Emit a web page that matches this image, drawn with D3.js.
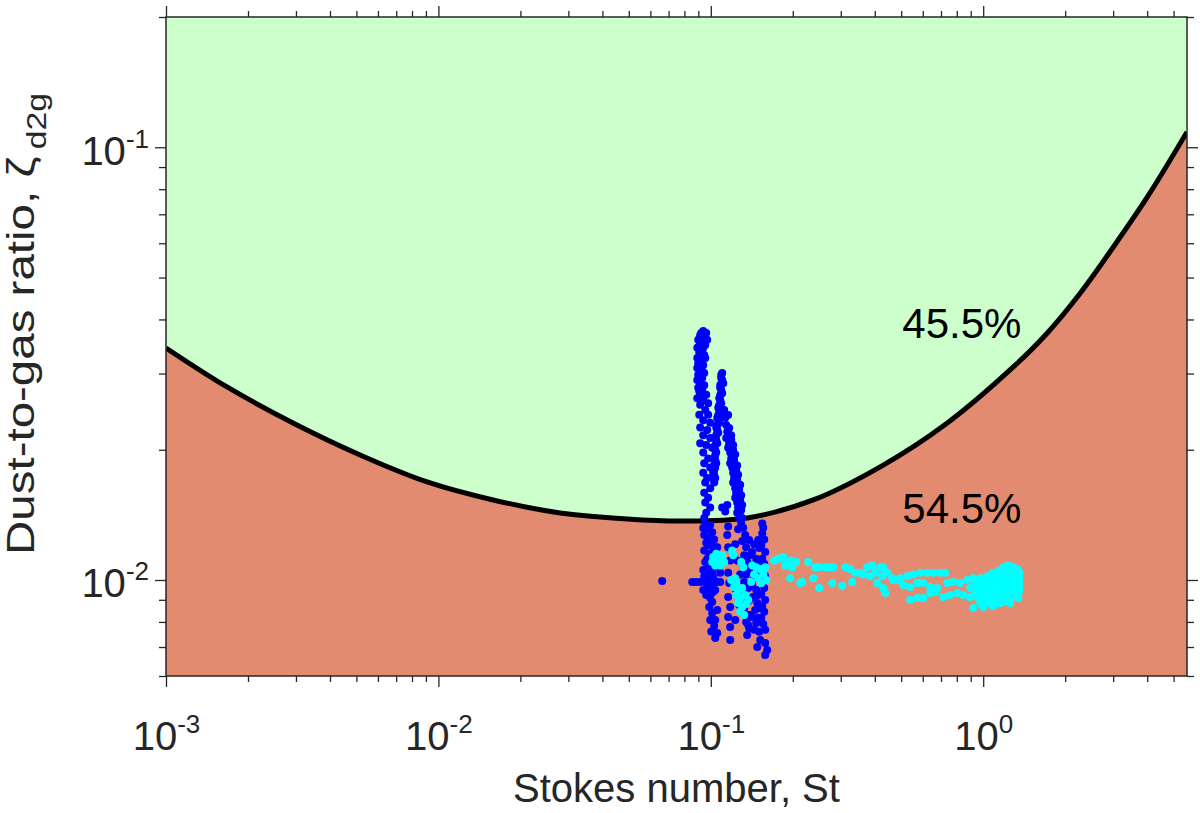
<!DOCTYPE html>
<html>
<head>
<meta charset="utf-8">
<script src="https://cdn.jsdelivr.net/npm/d3@7"></script>
<style>
  body { margin: 0; background: #fff; }
  text { font-family: Arial, "Liberation Sans", sans-serif; fill: #262626; }
</style>
</head>
<body>
<svg id="chart" width="1200" height="813"></svg>
<script>
// axis ranges and ticks
const xDomain = [0.001, 5.6];
const yDomain = [0.006, 0.2];
const xTickExps = [-3, -2, -1, 0];
const yTickExps = [-2, -1];
const areaLabels = ["45.5%", "54.5%"];

// critical dust-to-gas ratio curve
const curveSt = [0.001, 0.001675, 0.002926, 0.00516, 0.009089, 0.01588, 0.02799, 0.04932, 0.0772,
  0.136, 0.2377, 0.4188, 0.7383, 1.29, 1.72, 2.273, 3.005, 4.006, 5.6];
const curveZeta = [0.03437, 0.02793, 0.02306, 0.01945, 0.01685, 0.01531, 0.01429, 0.01384, 0.01369,
  0.01391, 0.01531, 0.01826, 0.02306, 0.03107, 0.03723, 0.04605, 0.05883, 0.07676, 0.1085];

// blue points [St, zeta]
const bluePoints = [
  [0.0938,0.0376],[0.0962,0.0372],[0.0914,0.0368],[0.0954,0.0364],[0.0899,0.0359],[0.0938,0.0359],
  [0.0970,0.0359],[0.0914,0.0351],[0.0954,0.0349],
  [0.0892,0.0344],[0.0930,0.0340],[0.0907,0.0335],[0.0946,0.0331],[0.0892,0.0326],[0.0922,0.0322],
  [0.0899,0.0317],[0.0938,0.0314],[0.0892,0.0309],[0.0914,0.0306],[0.0946,0.0301],[0.0899,0.0298],
  [0.0930,0.0293],[0.0892,0.0290],[0.0914,0.0285],[0.0946,0.0282],[0.0899,0.0278],[0.0930,0.0275],
  [0.0914,0.0270],[0.0892,0.0263],[0.0938,0.0261],
  [0.0922,0.0372],[0.0946,0.0355],[0.0907,0.0347],[0.0938,0.0344],[0.0914,0.0330],[0.0954,0.0326],
  [0.0930,0.0319],[0.0907,0.0312],[0.0930,0.0304],[0.0907,0.0295],[0.0922,0.0281],[0.0907,0.0273],
  [0.0938,0.0268],
  [0.0962,0.0268],[0.0978,0.0256],[0.0914,0.0254],[0.0954,0.0247],[0.0907,0.0241],[0.0978,0.0241],
  [0.0938,0.0234],[0.0995,0.0231],[0.0914,0.0225],[0.0970,0.0222],[0.0938,0.0216],[0.0995,0.0213],
  [0.0914,0.0207],[0.0962,0.0205],[0.1012,0.0202],
  [0.0938,0.0197],[0.0978,0.0191],[0.0946,0.0186],[0.0995,0.0182],[0.0938,0.0177],[0.0970,0.0172],
  [0.0954,0.0168],[0.0995,0.0163],[0.0946,0.0159],[0.0978,0.0155],[0.0954,0.0151],[0.0995,0.0147],
  [0.0962,0.0143],[0.0946,0.0139],
  [0.1101,0.0301],[0.1092,0.0293],[0.1111,0.0285],[0.1083,0.0278],[0.1101,0.0270],[0.1074,0.0263],
  [0.1092,0.0256],[0.1065,0.0250],[0.1083,0.0243],[0.1056,0.0237],[0.1074,0.0231],[0.1047,0.0225],
  [0.1065,0.0219],[0.1038,0.0213],[0.1056,0.0207],[0.1029,0.0202],[0.1047,0.0197],[0.1029,0.0191],
  [0.1047,0.0186],[0.1038,0.0182],[0.1020,0.0177],[0.1038,0.0172],[0.1029,0.0168],
  [0.1092,0.02976],[0.1101,0.02898],[0.1083,0.02822],[0.1092,0.02748],[0.1083,0.02676],[0.1083,0.02606],
  [0.1074,0.02537],[0.1074,0.02471],[0.1065,0.02406],[0.1065,0.02343],[0.1056,0.02281],[0.1056,0.02222],
  [0.1047,0.02163],[0.1047,0.02106],[0.1038,0.02051],[0.1038,0.01997],[0.1038,0.01945],[0.1038,0.01894],
  [0.1029,0.01844],[0.1029,0.01796],[0.1029,0.01748],[0.1029,0.01703],
  [0.1120,0.0247],[0.1130,0.0237],[0.1139,0.0228],[0.1149,0.0220],[0.1139,0.0213],[0.1168,0.0207],
  [0.1158,0.0202],[0.1178,0.0197],[0.1188,0.0191],[0.1178,0.0186],[0.1198,0.0182],[0.1208,0.0177],
  [0.1218,0.0172],[0.1208,0.0168],[0.1229,0.0163],[0.1239,0.0159],[0.1229,0.0155],[0.1250,0.0151],
  [0.1260,0.0147],[0.1250,0.0143],[0.1271,0.0139],[0.1293,0.0135],
  [0.1188,0.0216],[0.1208,0.0205],[0.1229,0.0195],[0.1250,0.0184],[0.1260,0.0175],[0.1282,0.0166],
  [0.1293,0.0157],[0.1304,0.0149],[0.1282,0.0144],
  [0.1158,0.02406],[0.1168,0.02245],[0.1188,0.02106],[0.1208,0.01997],[0.1218,0.01894],[0.1239,0.01796],
  [0.1250,0.01703],[0.1271,0.01614],[0.1282,0.01530],[0.1293,0.01451],[0.1304,0.01391],
  [0.1101,0.0147],[0.1130,0.0144],[0.1149,0.0149],
  [0.0954,0.0135],[0.0995,0.0134],[0.0970,0.0131],[0.1012,0.0129],[0.0946,0.0127],[0.0987,0.0125],
  [0.1029,0.0124],[0.0962,0.0122],[0.1004,0.0120],[0.1047,0.0119],[0.0946,0.0117],[0.0987,0.0115],
  [0.1029,0.0114],[0.0970,0.0112],[0.1012,0.0111],[0.0954,0.0110],[0.0995,0.0108],[0.1038,0.0107],
  [0.0970,0.0105],[0.1012,0.0104],[0.0946,0.0102],[0.0987,0.0101],[0.1029,0.0100],[0.0962,0.00984],
  [0.1004,0.00968],[0.0978,0.00948],[0.1020,0.00938],[0.0962,0.00923],[0.0995,0.00909],[0.1012,0.00890],
  [0.0938,0.01318],[0.0978,0.01205],[0.1020,0.0116],[0.0978,0.01083],[0.0938,0.01055],[0.1020,0.01016],
  [0.0978,0.00974],[0.0938,0.00948],[0.1038,0.00948],[0.0995,0.00928],
  [0.0663,0.00995],[0.0855,0.00989],[0.0884,0.00989],[0.0914,0.00989],[0.1047,0.00989],[0.1083,0.00989],
  [0.1056,0.0119],[0.1065,0.0111],[0.1083,0.0104],[0.1056,0.00853],[0.1038,0.00808],[0.1056,0.00754],
  [0.1158,0.0133],[0.1149,0.0127],[0.1158,0.0119],[0.1178,0.0111],[0.1158,0.0104],[0.1168,0.00984],
  [0.1158,0.00913],[0.1178,0.00866],[0.1158,0.00821],[0.1178,0.00779],[0.1178,0.00727],
  [0.1315,0.0132],[0.1338,0.0127],[0.1304,0.0123],[0.1349,0.0119],[0.1326,0.0114],[0.1360,0.0110],
  [0.1315,0.0107],[0.1349,0.0103],[0.1326,0.00989],[0.1372,0.00958],[0.1338,0.00923],[0.1360,0.00890],
  [0.1326,0.00862],[0.1372,0.00830],[0.1349,0.00800],[0.1383,0.00775],[0.1360,0.00746],
  [0.1443,0.0121],[0.1419,0.0116],[0.1468,0.0112],[0.1431,0.0108],[0.1481,0.0104],[0.1443,0.0101],
  [0.1419,0.00974],[0.1468,0.00948],[0.1431,0.00913],[0.1481,0.00885],[0.1456,0.00853],[0.1419,0.00821],
  [0.1468,0.00796],[0.1443,0.00767],
  [0.1383,0.01237],[0.1493,0.01237],[0.1395,0.01142],[0.1506,0.01186],[0.1383,0.01055],[0.1493,0.01101],
  [0.1395,0.00974],[0.1506,0.01016],[0.1383,0.00899],[0.1493,0.00923],[0.1395,0.00830],[0.1506,0.00862],
  [0.1372,0.00787],[0.1493,0.00817],[0.1506,0.00759],
  [0.1545,0.0135],[0.1558,0.0132],[0.1545,0.0128],[0.1571,0.0124],[0.1532,0.0120],[0.1584,0.0116],
  [0.1545,0.0112],[0.1571,0.0109],[0.1532,0.0106],[0.1584,0.0102],[0.1545,0.00989],[0.1571,0.00958],
  [0.1532,0.00928],[0.1584,0.00899],[0.1545,0.00871],[0.1571,0.00844],[0.1532,0.00817],[0.1558,0.00791],
  [0.1584,0.00767],
  [0.1519,0.00727],[0.1584,0.00715],[0.1481,0.00700],[0.1611,0.00689],[0.1584,0.00671],
  [0.1260,0.0131],[0.1229,0.0121],[0.1250,0.0111],[0.1282,0.0103],[0.1239,0.00948],[0.1271,0.00876],
  [0.1229,0.00808],
  [0.0987,0.00866],[0.1012,0.00839],[0.0995,0.00808],[0.1029,0.00783],[0.1004,0.00760],[0.1038,0.00734]
];

// cyan points [St, zeta]
const cyanPoints = [
  [0.1020,0.0113],[0.1047,0.0115],[0.1074,0.0111],[0.1101,0.0114],[0.1038,0.0108],[0.1083,0.0108],
  [0.1120,0.0110],[0.1012,0.0110],[0.1198,0.0117],[0.1208,0.0114],[0.1293,0.0110],[0.1315,0.0107],
  [0.1218,0.00963],[0.1260,0.00948],[0.1304,0.00958],[0.1239,0.00923],[0.1282,0.00909],[0.1338,0.00923],
  [0.1260,0.00885],[0.1304,0.00866],[0.1349,0.00880],[0.1282,0.00844],[0.1326,0.00830],[0.1372,0.00899],
  [0.1239,0.00984],[0.1188,0.0100],[0.1229,0.0101],
  [0.1419,0.0108],[0.1468,0.0107],[0.1519,0.0106],[0.1443,0.0103],[0.1493,0.0101],[0.1558,0.0103],
  [0.1532,0.00984],[0.1598,0.0100],[0.1407,0.00989],[0.1584,0.0107],
  [0.1709,0.0111],[0.1768,0.0112],[0.1845,0.0113],[0.1892,0.0110],[0.1974,0.0111],[0.2059,0.0110],
  [0.1876,0.0108],[0.1990,0.0107],
  [0.2279,0.0110],[0.2417,0.0107],[0.2479,0.0107],[0.2631,0.0107],[0.2745,0.0107],[0.2816,0.0107],
  [0.1957,0.0101],[0.2167,0.00989],[0.2130,0.00984],[0.2377,0.0101],[0.2500,0.00958],[0.2792,0.00984],
  [0.3038,0.00968],
  [0.3116,0.0107],[0.3251,0.0106],[0.3391,0.0104],[0.3537,0.0104],[0.3753,0.0107],[0.3915,0.0108],
  [0.4015,0.0104],[0.4188,0.0107],[0.4296,0.0107],[0.4444,0.0104],[0.4636,0.0101],[0.4837,0.0100],
  [0.3306,0.00989],[0.4083,0.00984],[0.4296,0.00958],[0.4370,0.00933],[0.3628,0.0103],[0.3849,0.0102],
  [0.4260,0.0102],
  [0.4676,0.0100],[0.4961,0.0101],[0.5264,0.0102],[0.5538,0.0103],[0.5875,0.0104],[0.6232,0.0104],
  [0.6557,0.0104],[0.6956,0.0104],[0.7256,0.0104],
  [0.5088,0.00974],[0.5399,0.00963],[0.5729,0.00984],[0.6026,0.00984],[0.6393,0.00963],[0.6782,0.00958],
  [0.7380,0.00984],[0.7763,0.00989],[0.8237,0.00984],[0.8738,0.0100],[0.9193,0.0101],[0.9757,0.0101],
  [1.035,0.0102],
  [0.5399,0.00899],[0.5729,0.00909],[0.6026,0.00909],[0.6393,0.00933],[0.6668,0.00938],[0.7134,0.00913],
  [0.7569,0.00923],[0.8031,0.00933],[0.8448,0.00923],[0.8963,0.00913],[0.9510,0.00933],
  [1.185,0.0107],[1.236,0.0108],[1.290,0.0107],[1.335,0.0106],
  [1.089,0.0104],[1.137,0.0105],[1.185,0.0104],[1.236,0.0105],[1.290,0.0104],[1.357,0.0104],
  [1.018,0.0101],[1.062,0.0102],[1.108,0.0101],[1.156,0.0102],[1.205,0.0101],[1.257,0.0102],
  [1.312,0.0101],[1.357,0.0102],
  [0.9350,0.00984],[0.9757,0.00995],[1.018,0.00984],[1.062,0.00995],[1.108,0.00984],[1.156,0.00995],
  [1.205,0.00984],[1.257,0.00995],[1.312,0.00984],[1.357,0.00989],
  [0.8963,0.00958],[0.9350,0.00968],[0.9757,0.00958],[1.018,0.00968],[1.062,0.00958],[1.108,0.00968],
  [1.156,0.00958],[1.205,0.00968],[1.257,0.00958],[1.312,0.00968],[1.357,0.00958],
  [0.9350,0.00933],[0.9757,0.00943],[1.018,0.00933],[1.062,0.00943],[1.108,0.00933],[1.156,0.00943],
  [1.205,0.00933],[1.257,0.00943],[1.312,0.00933],[1.357,0.00943],
  [0.9591,0.00909],[1.0007,0.00918],[1.044,0.00909],[1.089,0.00918],[1.137,0.00909],[1.185,0.00918],
  [1.236,0.00909],[1.290,0.00918],[1.346,0.00909],
  [0.9757,0.00885],[1.018,0.00894],[1.062,0.00885],[1.108,0.00894],[1.156,0.00885],[1.205,0.00894],
  [1.257,0.00885],
  [0.9193,0.00862],[1.0007,0.00866],[1.089,0.00871]
];

const margin = { top: 17, right: 13, bottom: 137, left: 166 },
    width = 1200 - margin.left - margin.right,
    height = 813 - margin.top - margin.bottom;

const svg = d3.select("#chart")
    .append("g")
    .attr("transform", `translate(${margin.left},${margin.top})`);

const x = d3.scaleLog().domain(xDomain).range([0, width]);
const y = d3.scaleLog().domain(yDomain).range([height, 0]);

svg.append("clipPath").attr("id", "plot-clip")
    .append("rect").attr("width", width).attr("height", height);

const plot = svg.append("g").attr("clip-path", "url(#plot-clip)");

// green (stable) background
plot.append("rect")
    .attr("width", width)
    .attr("height", height)
    .attr("fill", "#ccffcc");

const curveData = curveSt.map((s, i) => ({ st: s, zeta: curveZeta[i] }));

// red region under the curve
plot.append("path")
    .datum(curveData)
    .attr("fill", "#e28b71")
    .attr("d", d3.area()
        .x(d => x(d.st))
        .y0(height)
        .y1(d => y(d.zeta))
        .curve(d3.curveCatmullRom));

plot.append("path")
    .datum(curveData)
    .attr("fill", "none")
    .attr("stroke", "#000")
    .attr("stroke-width", 5)
    .attr("d", d3.line()
        .x(d => x(d.st))
        .y(d => y(d.zeta))
        .curve(d3.curveCatmullRom));

// scatter
plot.append("g").selectAll("circle")
    .data(bluePoints)
    .enter().append("circle")
    .attr("cx", d => x(d[0]))
    .attr("cy", d => y(d[1]))
    .attr("r", 4)
    .attr("fill", "#0000ff");

plot.append("g").selectAll("circle")
    .data(cyanPoints)
    .enter().append("circle")
    .attr("cx", d => x(d[0]))
    .attr("cy", d => y(d[1]))
    .attr("r", 4)
    .attr("fill", "#00ffff");

// percentages
svg.append("text")
    .attr("x", x(0.505))
    .attr("y", y(0.03624))
    .style("font-size", "42px")
    .style("fill", "#000")
    .text(areaLabels[0]);

svg.append("text")
    .attr("x", x(0.505))
    .attr("y", y(0.01354))
    .style("font-size", "42px")
    .style("fill", "#000")
    .text(areaLabels[1]);

// ticks
const isMajor = v => Math.abs(Math.log10(v) - Math.round(Math.log10(v))) < 1e-6;
const xMinor = x.ticks().filter(v => !isMajor(v));
const yMinor = y.ticks().filter(v => !isMajor(v));
const xMajor = xTickExps.map(e => Math.pow(10, e));
const yMajor = yTickExps.map(e => Math.pow(10, e));

function styleAxis(g) {
    g.select(".domain").remove();
    g.selectAll(".tick line").attr("stroke", "#262626").attr("stroke-width", 1.3);
}

svg.append("g").attr("transform", `translate(0,${height})`)
    .call(d3.axisBottom(x).tickValues(xMinor).tickSize(6).tickFormat("")).call(styleAxis);
svg.append("g").call(d3.axisTop(x).tickValues(xMinor).tickSize(6).tickFormat("")).call(styleAxis);
svg.append("g").call(d3.axisLeft(y).tickValues(yMinor).tickSize(7).tickFormat("")).call(styleAxis);
svg.append("g").attr("transform", `translate(${width},0)`)
    .call(d3.axisRight(y).tickValues(yMinor).tickSize(7).tickFormat("")).call(styleAxis);

svg.append("g").call(d3.axisTop(x).tickValues(xMajor).tickSize(11).tickFormat("")).call(styleAxis);
svg.append("g").attr("transform", `translate(${width},0)`)
    .call(d3.axisRight(y).tickValues(yMajor).tickSize(11).tickFormat("")).call(styleAxis);

const gx = svg.append("g").attr("transform", `translate(0,${height})`)
    .call(d3.axisBottom(x).tickValues(xMajor).tickSize(11).tickFormat("")).call(styleAxis);
const xLab = gx.selectAll(".tick").append("text")
    .attr("y", 74)
    .attr("text-anchor", "middle")
    .style("font-size", "40px");
xLab.append("tspan").text("10");
xLab.append("tspan").attr("dy", -17).style("font-size", "26px").text((d, i) => xTickExps[i]);

const gy = svg.append("g")
    .call(d3.axisLeft(y).tickValues(yMajor).tickSize(11).tickFormat("")).call(styleAxis);
const yLab = gy.selectAll(".tick").append("text")
    .attr("x", -17)
    .attr("y", 17)
    .attr("text-anchor", "end")
    .style("font-size", "40px");
yLab.append("tspan").text("10");
yLab.append("tspan").attr("dy", -17).style("font-size", "26px").text((d, i) => yTickExps[i]);

// box
svg.append("rect")
    .attr("width", width)
    .attr("height", height)
    .attr("fill", "none")
    .attr("stroke", "#262626")
    .attr("stroke-width", 1.5);

// axis titles
svg.append("text")
    .attr("x", width / 2)
    .attr("y", height + 126)
    .attr("text-anchor", "middle")
    .style("font-size", "40px")
    .text("Stokes number, St");

const yTitle = svg.append("text")
    .attr("transform", `translate(${-margin.left + 34},${height - 121}) rotate(-90) scale(1.25,1)`)
    .attr("text-anchor", "start")
    .style("font-size", "38px");
yTitle.append("tspan").text("Dust-to-gas ratio, ζ");
yTitle.append("tspan").attr("dx", 6).attr("dy", 12).style("font-size", "27px").text("d2g");
</script>
</body>
</html>
